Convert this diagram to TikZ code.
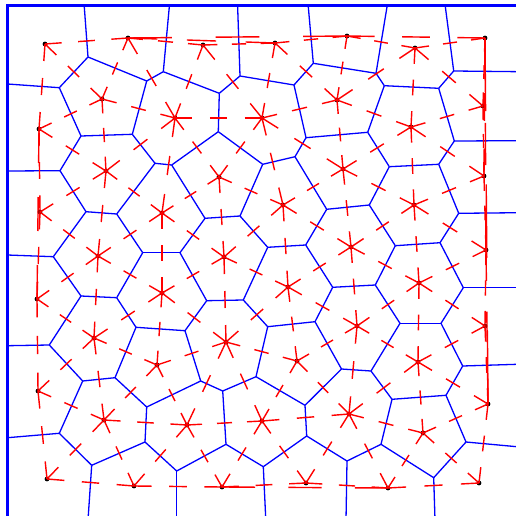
\documentclass[tikz,border=0pt]{standalone}
\usetikzlibrary{calc}
\begin{document}
\begin{tikzpicture}[x=1pt,y=-1pt,
  vor/.style={draw=blue,line width=1.3pt},
  frm/.style={draw=blue,line width=2.8pt},
  del/.style={draw=red,line width=1.4pt},
  site/.style={fill=black}]
\useasboundingbox (0,0) rectangle (516,516);
\clip (0,0) rectangle (516,516);
% sites
\foreach \n/\x/\y in {1/45/44,2/128/38,3/203/45,4/275/43,5/347/36,6/415/48,7/485/38,
 8/102/99,9/175/118,10/262/118,11/337/100,12/411/127,13/483/106,
 14/39/129,15/106/171,16/219/177,17/343/169,18/484/176,
 19/40/212,20/162/213,21/283/205,22/414/205,
 23/98/256,24/224/257,25/351/247,26/486/250,
 27/37/299,28/162/293,29/288/287,30/419/283,
 31/94/338,32/226/342,33/357/326,34/485/326,
 35/38/391,36/157/365,37/297/361,38/418/362,
 39/104/420,40/187/425,41/262/421,42/349/414,43/488/404,44/423/433,
 45/47/479,46/134/486,47/222/487,48/306/483,49/388/488,50/479/483}
 {\coordinate (s\n) at (\x,\y);}
% voronoi vertices
\foreach \n/\x/\y in {1/88/57,2/146.7/81,3/59.3/87.7,4/81/136,5/132.3/134.3,6/155/163.3,
 7/60/170.7,8/163.3/71.7,9/240/76,10/219.3/93.3,11/218.3/131.7,12/171.7/165,
 13/262.7/164.3,14/295/156.7,15/306/137.7,16/294/85,17/313.3/63.3,18/376/73.3,
 19/384.3/85.7,20/438.7/88.3,21/453.7/71,22/454.3/141,23/367.7/132.3,24/389.3/166.7,
 25/438.7/164.3,26/86/211.7,27/116.7/214,28/53.3/256.7,29/81/296,30/116.7/297.7,
 31/142.7/252.7,32/136/327.3,33/49.3/345,34/205/218.3,35/240/216,36/267.7/247.3,
 37/305.7/245,38/326.7/209.3,39/332.7/287.3,40/315/321.7,41/267.7/326.7,42/243.3/300,
 43/206.7/300.7,44/180/252.7,45/185/330.7,46/369.3/205,47/395.3/245.7,48/440/242.7,
 49/458.7/213.3,50/375.3/285,51/400/323.3,52/441/323.3,53/463.3/287.7,54/82.7/381,
 55/115/377.7,56/146.7/407,57/145/442,58/91.7/465.3,59/59.3/433.3,60/176.7/471,
 61/200.7/381,62/222.7/391,63/256/376.7,64/305/405.3,65/341.5/369,66/306.7/436,
 67/263.3/466.7,68/226/444.3,70/347/461,71/371/371,72/392/399.3,73/446/395.3,
 74/462.7/366,75/466/442,76/433.7/477.7,77/381/444.3}
 {\coordinate (a\n) at (\x,\y);}
% boundary ends
\coordinate (t1) at (84.2,5.7); \coordinate (t2) at (169.4,5.7);
\coordinate (t3) at (237.6,5.7); \coordinate (t4) at (308.2,5.7);
\coordinate (t5) at (387.2,5.7); \coordinate (t6) at (445.2,5.7);
\coordinate (l1) at (7.5,84); \coordinate (l2) at (7.5,171);
\coordinate (l3) at (7.5,255); \coordinate (l4) at (7.5,345.7);
\coordinate (l5) at (7.5,437.7);
\coordinate (r1) at (520,71.7); \coordinate (r2) at (520,140.7);
\coordinate (r3) at (520,212.7); \coordinate (r4) at (520,287.7);
\coordinate (r5) at (520,364.2); \coordinate (r6) at (520,447);
\coordinate (b1) at (88,520); \coordinate (b2) at (176.7,520);
\coordinate (b3) at (265.8,520); \coordinate (b4) at (346,520);
\coordinate (b5) at (435,520);
% voronoi edges
\foreach \p/\q in {a1/a2,a1/a3,a3/a4,a4/a5,a5/a2,a5/a6,a4/a7,a2/a8,a8/a10,a9/a10,
 a10/a11,a11/a12,a6/a12,a11/a13,a13/a14,a14/a15,a15/a16,a16/a9,a16/a17,a17/a18,
 a18/a19,a19/a20,a20/a21,a20/a22,a19/a23,a15/a23,a23/a24,a24/a25,a25/a22,
 a7/a26,a26/a27,a27/a6,a26/a28,a28/a29,a29/a30,a30/a31,a31/a27,a31/a44,a30/a32,a29/a33,
 a12/a34,a34/a35,a35/a13,a35/a36,a36/a37,a37/a38,a38/a14,a38/a46,a37/a39,a39/a40,
 a40/a41,a41/a42,a42/a36,a42/a43,a43/a44,a44/a34,a43/a45,a32/a45,a45/a61,
 a24/a46,a46/a47,a47/a48,a48/a49,a49/a25,a47/a50,a50/a39,a50/a51,a51/a52,a52/a53,a53/a48,
 a33/a54,a54/a55,a55/a32,a55/a56,a56/a57,a56/a61,a57/a58,a58/a59,a59/a54,a57/a60,
 a61/a62,a62/a63,a63/a41,a63/a64,a64/a65,a65/a40,a65/a71,a64/a66,a66/a67,a67/a68,
 a68/a62,a68/a60,a66/a70,
 a71/a51,a71/a72,a72/a73,a73/a74,a74/a52,a73/a75,a75/a76,a76/a77,a77/a72,a77/a70,
 a1/t1,a8/t2,a9/t3,a17/t4,a18/t5,a21/t6,a3/l1,a7/l2,a28/l3,a33/l4,a59/l5,
 a21/r1,a22/r2,a49/r3,a53/r4,a74/r5,a75/r6,a58/b1,a60/b2,a67/b3,a70/b4,a76/b5}
 {\draw[vor] (\p) -- (\q);}
% frame
\coordinate (fbl) at (7.5,540); \coordinate (ftl) at (7.5,5.7); \coordinate (ftr) at (540,5.7);
\draw[frm] (fbl) -- (ftl) -- (ftr);
% site dots
\foreach \n in {1,...,50} {\fill[site] (s\n) circle (2.4);}
% delaunay edges (drawn in five parts: three shown)
\foreach \a/\b in {1/2,2/3,3/4,4/5,5/6,6/7,1/14,14/19,19/27,27/35,35/45,
 7/13,13/18,18/26,26/34,34/43,43/50,45/46,46/47,47/48,48/49,49/50,
 2/8,1/8,14/8,8/15,8/9,9/15,14/15,2/9,3/9,3/10,9/10,9/16,9/20,15/20,10/16,10/21,
 10/17,10/11,11/17,4/10,4/11,5/11,6/11,6/12,11/12,6/13,12/13,12/17,12/22,12/18,17/22,
 15/19,15/23,19/23,23/27,23/31,23/28,20/23,20/28,28/31,27/31,
 16/20,16/24,16/21,21/24,21/29,21/25,17/21,17/25,25/29,29/33,29/37,29/32,24/29,
 24/32,24/28,20/24,28/32,28/36,32/36,
 22/25,22/30,22/26,18/22,25/30,25/33,30/33,30/38,30/34,26/30,
 31/35,31/39,31/36,36/39,39/40,36/40,39/46,39/45,35/39,40/46,
 32/40,32/41,32/37,37/41,37/42,33/37,33/42,41/42,41/48,41/47,40/41,40/47,42/48,
 33/38,38/42,38/44,38/43,43/44,44/50,44/49,42/44,42/49,34/38,
 2/4,2/5,5/7,14/27,47/49,7/18,7/26,26/43,7/43}
 {\draw[del] (s\a) -- ($(s\a)!0.2!(s\b)$) ($(s\a)!0.4!(s\b)$) -- ($(s\a)!0.6!(s\b)$)
   ($(s\a)!0.8!(s\b)$) -- (s\b);}
\end{tikzpicture}
\end{document}
